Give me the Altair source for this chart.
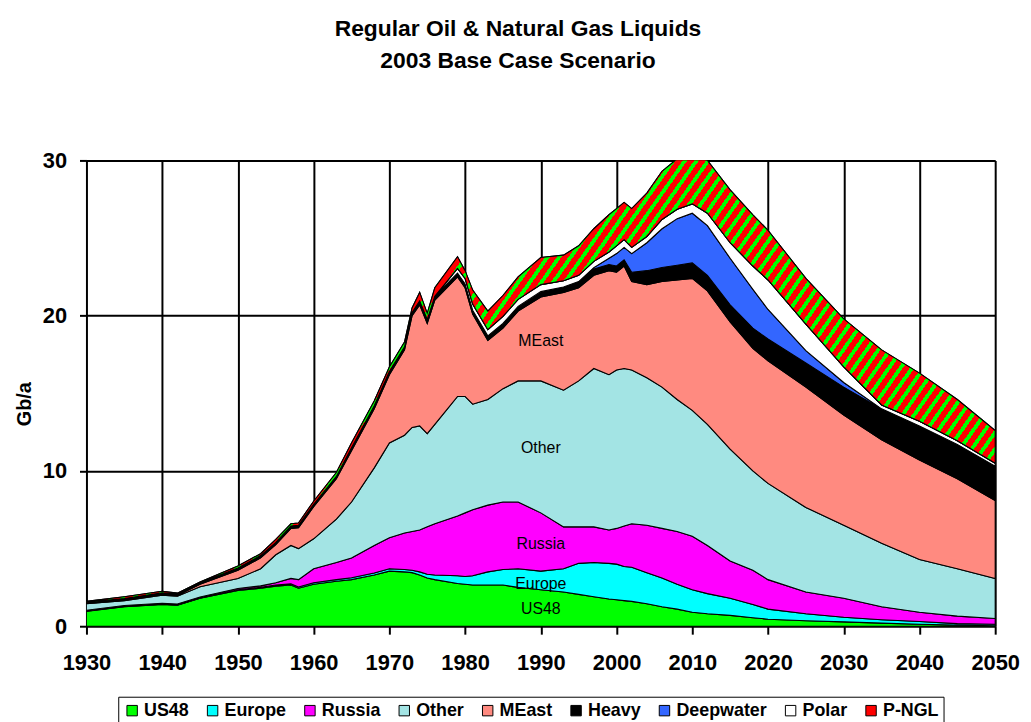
import math
import numpy as np
import pandas as pd
import altair as alt

# ---------------- data (Gb/a) ----------------
years = [1930, 1935, 1940, 1942, 1945, 1950, 1953, 1955, 1957, 1958,
         1960, 1963, 1965, 1968, 1970, 1972, 1973, 1974, 1975, 1976,
         1979, 1980, 1981, 1983, 1985, 1987, 1990, 1993, 1995, 1997,
         1999, 2000, 2001, 2002, 2004, 2006, 2008, 2010, 2012, 2015,
         2018, 2020, 2025, 2030, 2035, 2040, 2045, 2050]

us48 = [0.96, 1.26, 1.40, 1.35, 1.80, 2.30, 2.45, 2.58, 2.65, 2.45,
        2.70, 2.90, 3.00, 3.30, 3.55, 3.50, 3.45, 3.30, 3.10, 3.00,
        2.75, 2.70, 2.65, 2.65, 2.65, 2.50, 2.35, 2.20, 2.05, 1.90,
        1.75, 1.70, 1.65, 1.60, 1.45, 1.25, 1.10, 0.90, 0.80, 0.70,
        0.55, 0.45, 0.35, 0.28, 0.20, 0.13, 0.07, 0.03]

europe = [0.02, 0.02, 0.02, 0.02, 0.02, 0.05, 0.05, 0.07, 0.08, 0.08,
          0.10, 0.10, 0.12, 0.13, 0.15, 0.15, 0.15, 0.20, 0.25, 0.30,
          0.50, 0.50, 0.60, 0.85, 1.00, 1.20, 1.20, 1.50, 2.00, 2.20,
          2.30, 2.30, 2.20, 2.20, 2.00, 1.85, 1.60, 1.45, 1.30, 1.10,
          0.85, 0.65, 0.45, 0.30, 0.22, 0.17, 0.10, 0.10]

russia = [0.05, 0.05, 0.06, 0.06, 0.06, 0.08, 0.10, 0.15, 0.35, 0.47,
          0.90, 1.10, 1.28, 1.77, 2.00, 2.35, 2.50, 2.70, 3.05, 3.30,
          3.85, 4.10, 4.25, 4.30, 4.35, 4.30, 3.75, 2.70, 2.35, 2.30,
          2.15, 2.30, 2.60, 2.80, 3.05, 3.20, 3.40, 3.45, 3.10, 2.40,
          2.20, 1.90, 1.40, 1.22, 0.83, 0.60, 0.48, 0.37]

other = [0.42, 0.32, 0.52, 0.50, 0.66, 0.64, 1.10, 1.80, 2.12, 2.00,
         1.93, 2.80, 3.60, 5.00, 6.10, 6.30, 6.70, 6.70, 6.00, 6.40,
         7.70, 7.50, 6.80, 6.80, 7.30, 7.80, 8.50, 8.80, 9.40, 10.20,
         10.00, 10.20, 10.15, 9.90, 9.50, 9.10, 8.50, 8.10, 7.80, 7.20,
         6.40, 6.20, 5.45, 4.70, 4.10, 3.40, 3.05, 2.57]

meast = [0.02, 0.03, 0.05, 0.05, 0.16, 0.53, 0.70, 0.65, 1.10, 1.35,
         2.07, 2.60, 3.30, 3.80, 4.40, 5.50, 7.20, 7.80, 7.10, 8.00,
         7.70, 7.00, 5.80, 3.80, 3.90, 4.50, 5.40, 6.30, 6.00, 6.00,
         6.70, 6.30, 6.60, 5.70, 6.00, 6.80, 7.70, 8.50, 8.60, 8.20,
         7.90, 7.90, 7.75, 7.10, 6.65, 6.40, 5.80, 5.03]

heavy = [0.08, 0.10, 0.10, 0.10, 0.10, 0.15, 0.15, 0.15, 0.15, 0.15,
         0.15, 0.15, 0.20, 0.20, 0.20, 0.20, 0.20, 0.25, 0.25, 0.25,
         0.25, 0.25, 0.25, 0.30, 0.30, 0.30, 0.35, 0.35, 0.40, 0.40,
         0.40, 0.40, 0.40, 0.60, 0.90, 0.90, 0.95, 1.00, 1.00, 1.10,
         1.30, 1.40, 1.55, 1.80, 2.00, 2.20, 2.20, 2.20]

deepwater = [0, 0, 0, 0, 0, 0, 0, 0, 0, 0,
             0, 0, 0, 0, 0, 0, 0, 0, 0, 0,
             0, 0, 0, 0, 0, 0, 0, 0, 0, 0.10,
             0.40, 0.80, 0.80, 1.20, 1.80, 2.50, 3.00, 3.20, 3.20, 3.00,
             2.50, 1.90, 0.80, 0.30, 0, 0, 0, 0]

polar = [0, 0, 0, 0, 0, 0, 0, 0, 0, 0,
         0, 0, 0, 0, 0, 0, 0, 0, 0, 0,
         0.30, 0.35, 0.40, 0.40, 0.45, 0.45, 0.45, 0.40, 0.40, 0.40,
         0.40, 0.50, 0.50, 0.40, 0.40, 0.60, 0.60, 0.60, 0.80, 1.00,
         1.50, 1.90, 1.70, 1.00, 0.25, 0.30, 0.25, 0.20]

pngl = [0.05, 0.12, 0.10, 0.05, 0.05, 0.13, 0.12, 0.20, 0.15, 0.15,
        0.20, 0.25, 0.30, 0.30, 0.30, 0.30, 0.30, 0.55, 0.40, 0.55,
        0.75, 0.50, 0.90, 1.20, 1.35, 1.45, 1.75, 1.65, 1.90, 2.10,
        2.40, 2.40, 2.40, 2.50, 2.80, 3.10, 3.25, 3.20, 3.40, 3.40,
        3.30, 3.20, 2.95, 3.10, 3.55, 3.10, 2.65, 2.10]

series = ["US48", "Europe", "Russia", "Other", "MEast",
          "Heavy", "Deepwater", "Polar", "P-NGL"]
colors = ["#00FF00", "#00FFFF", "#FF00FF", "#A3E4E4", "#FF8A80",
          "#000000", "#3366FF", "#FFFFFF", "#FF0000"]

label_text = ["MEast", "Other", "Russia", "Europe", "US48"]
label_year = [1990, 1990, 1990, 1990, 1990]
label_value = [18.4, 11.45, 5.3, 2.7, 1.1]

title_lines = ["Regular Oil & Natural Gas Liquids", "2003 Base Case Scenario"]
x_ticks = list(range(1930, 2051, 10))
y_ticks = [0, 10, 20, 30]

# ---------------- build stacked table ----------------
values = [us48, europe, russia, other, meast, heavy, deepwater, polar, pngl]
rows = []
cum = np.zeros(len(years))
for name, vals in zip(series, values):
    v = np.array(vals, dtype=float)
    for i, yr in enumerate(years):
        rows.append({"year": yr, "series": name,
                     "y0": float(cum[i]), "y1": float(cum[i] + v[i])})
    cum = cum + v
df = pd.DataFrame(rows)
labels_df = pd.DataFrame({"label": label_text, "year": label_year, "value": label_value})

W, H, YMAX = 915, 469, 30
FONT = "Liberation Sans"

# ---------------- striped fill for P-NGL (gradient with hard stops) ----------------
ngl = df[df.series == "P-NGL"]
Hb = (ngl.y1.max() - ngl.y0.min()) * H / YMAX
a = math.radians(55)
S = W * math.sin(a) + Hb * math.cos(a)
den = (W * math.sin(a)) ** 2 + (Hb * math.cos(a)) ** 2
k = S / den
gx, gy = k * W * math.sin(a), k * Hb * math.cos(a)
period = 9.6
stops = []
s = 0.0
while s < S:
    t0 = s / S
    t1 = min((s + 0.6 * period) / S, 1.0)
    t2 = min((s + period) / S, 1.0)
    stops += [{"color": "#FF0000", "offset": t0}, {"color": "#FF0000", "offset": t1},
              {"color": "#00FF00", "offset": t1}, {"color": "#00FF00", "offset": t2}]
    s += period
stripes = {"gradient": "linear", "x1": 0, "y1": 0, "x2": gx, "y2": gy, "stops": stops}

# ---------------- chart ----------------
xenc = alt.X("year:Q",
             scale=alt.Scale(domain=[1930, 2050], nice=False, zero=False),
             axis=alt.Axis(values=x_ticks, format="d", title=None, grid=True,
                           gridColor="black", gridWidth=2, gridOpacity=1,
                           tickColor="black", tickWidth=2, tickSize=8,
                           domain=False, labelFlush=False,
                           labelFont=FONT, labelFontSize=22, labelFontWeight="bold",
                           labelColor="black", labelPadding=19))
yenc = alt.Y("y1:Q",
             scale=alt.Scale(domain=[0, YMAX], nice=False),
             axis=alt.Axis(values=y_ticks, title="Gb/a", grid=True,
                           gridColor="black", gridWidth=2, gridOpacity=1,
                           tickColor="black", tickWidth=2, tickSize=7,
                           domain=False,
                           labelFont=FONT, labelFontSize=22, labelFontWeight="bold",
                           labelColor="black", labelPadding=13,
                           titleFont=FONT, titleFontSize=20, titleFontWeight="bold",
                           titleColor="black", titleAngle=270, titleX=-62, titleY=245,
                           titleAlign="center", titleBaseline="middle"))

areas = alt.Chart(df).mark_area(stroke="black", strokeWidth=1.1, clip=True, interpolate="linear").encode(
    x=xenc,
    y=yenc,
    y2="y0:Q",
    fill=alt.Fill("series:N",
                  scale=alt.Scale(domain=series, range=colors),
                  sort=series,
                  legend=alt.Legend(orient="none", legendX=32, legendY=540,
                                    direction="horizontal", columns=9, title=None,
                                    symbolType="square", symbolSize=110,
                                    symbolStrokeColor="black", symbolStrokeWidth=1,
                                    labelFont=FONT, labelFontSize=18,
                                    labelFontWeight="bold", labelColor="black",
                                    strokeColor="black", fillColor="white",
                                    padding=5, columnPadding=14, labelOffset=3)),
    detail="series:N",
)

ngl_layer = alt.Chart(df).transform_filter(alt.datum.series == "P-NGL").mark_area(
    fill=stripes, stroke="black", strokeWidth=1.1, clip=True, interpolate="linear"
).encode(x="year:Q", y="y1:Q", y2="y0:Q")

texts = alt.Chart(labels_df).mark_text(font=FONT, fontSize=16, color="black").encode(
    x="year:Q", y="value:Q", text="label:N")

chart = alt.layer(areas, ngl_layer, texts).properties(
    width=W, height=H,
    title=alt.TitleParams(text=title_lines, font=FONT, fontSize=23, fontWeight="bold",
                          color="black", anchor="middle", offset=77, dx=-23, lineHeight=32),
    autosize=alt.AutoSizeParams(type="none"),
    padding={"left": 79, "top": 151, "right": 28, "bottom": 100},
).configure_view(stroke="black", strokeWidth=2).configure(background="white")

chart.save("out.html", embed_options={"renderer": "svg", "actions": False})
